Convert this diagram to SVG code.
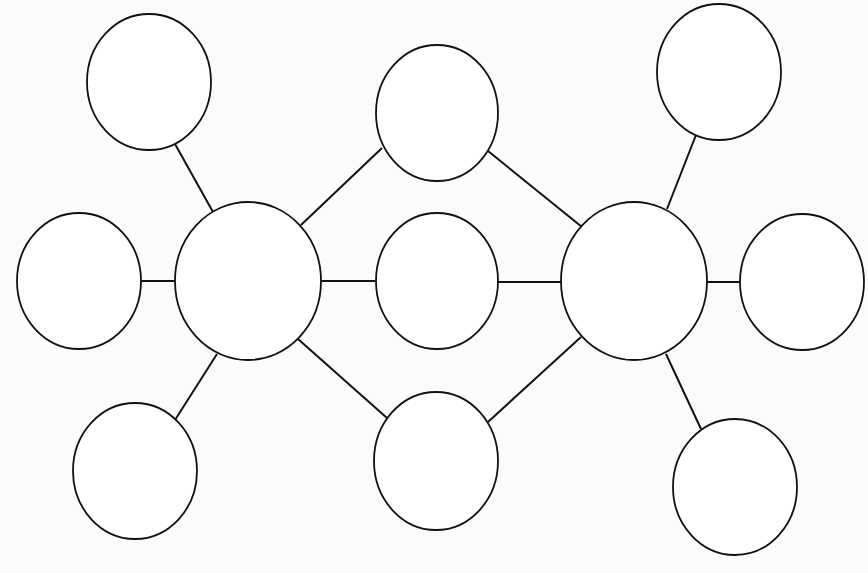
<svg xmlns="http://www.w3.org/2000/svg" width="868" height="573" viewBox="0 0 868 573">
<style>
.n{fill:#ffffff;stroke:#111;stroke-width:1.8}
.c line{stroke:#111;stroke-width:2}
</style>
<rect width="868" height="573" fill="#fbfbfb"/>
<g class="c">
<line x1="175" y1="144" x2="213" y2="212"/>
<line x1="141" y1="281" x2="175" y2="281"/>
<line x1="301" y1="225" x2="382" y2="148"/>
<line x1="321" y1="281" x2="375" y2="281"/>
<line x1="298" y1="339" x2="387" y2="418"/>
<line x1="217" y1="354" x2="175" y2="420"/>
<line x1="488" y1="151" x2="582" y2="227"/>
<line x1="498" y1="282" x2="561" y2="282"/>
<line x1="488" y1="422" x2="581" y2="337"/>
<line x1="696" y1="135" x2="667" y2="209"/>
<line x1="707" y1="282" x2="740" y2="282"/>
<line x1="666" y1="354" x2="701" y2="429"/>
</g>
<g id="left-center"><ellipse class="n" cx="248" cy="281" rx="73" ry="79"/></g>
<g id="right-center"><ellipse class="n" cx="634" cy="281" rx="73" ry="79"/></g>
<g id="left-top"><ellipse class="n" cx="149" cy="82" rx="62" ry="68"/></g>
<g id="left-mid"><ellipse class="n" cx="79" cy="281" rx="62" ry="68"/></g>
<g id="left-bottom"><ellipse class="n" cx="135" cy="471" rx="62" ry="68"/></g>
<g id="shared-top"><ellipse class="n" cx="437" cy="113" rx="61" ry="68"/></g>
<g id="shared-mid"><ellipse class="n" cx="437" cy="281" rx="61" ry="68"/></g>
<g id="shared-bottom"><ellipse class="n" cx="436" cy="461" rx="62" ry="69"/></g>
<g id="right-top"><ellipse class="n" cx="719" cy="72" rx="62" ry="68"/></g>
<g id="right-mid"><ellipse class="n" cx="802" cy="282" rx="62" ry="68"/></g>
<g id="right-bottom"><ellipse class="n" cx="735" cy="487" rx="62" ry="68"/></g>
</svg>
